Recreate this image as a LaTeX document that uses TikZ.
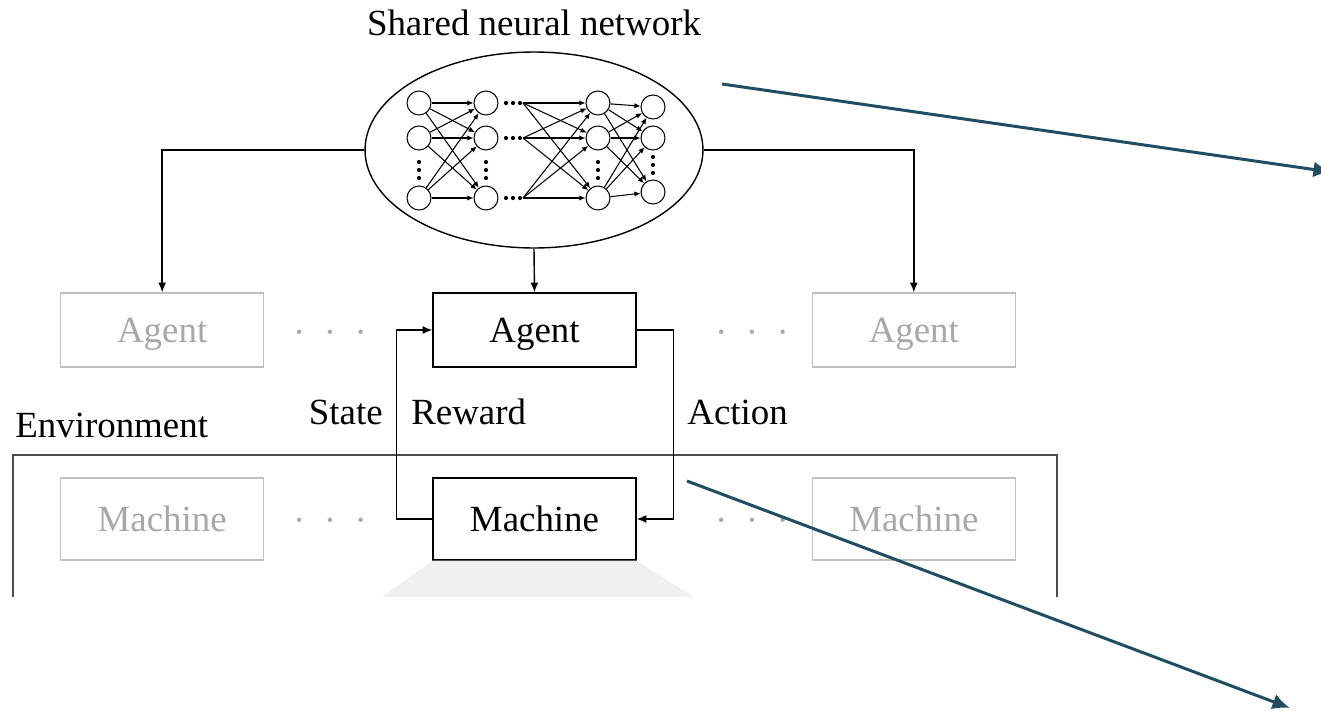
\documentclass[tikz,border=0pt]{standalone}
\usepackage{fontspec}
\setmainfont{Liberation Serif}
\definecolor{paleink}{RGB}{168,168,168}
\definecolor{paleedge}{RGB}{192,192,192}
\definecolor{slateblue}{RGB}{31,78,99}
\usetikzlibrary{shapes,arrows,arrows.meta,positioning}

\begin{document}
\begin{tikzpicture}[x=0.02cm, y=-0.02cm, font=\fontsize{21}{25}\selectfont]
    \tikzstyle{box} = [draw, thick, rectangle, minimum height=1.48cm, minimum width=4.06cm, inner sep=0pt, text depth=0pt]
    \tikzstyle{tallbox} = [box, minimum height=1.64cm]
    \tikzstyle{faded} = [draw=paleedge, text=paleink]
    \tikzstyle{tag} = [inner sep=0pt]
    \tikzstyle{line} = [draw, -{Latex[length=5.5pt,width=4.5pt]}, thick]
    \tikzstyle{neuron} = [draw, circle, minimum size=0.48cm, inner sep=0pt, semithick]
    \tikzstyle{syn} = [draw, -{Latex[length=3.5pt,width=3pt]}, semithick]
    \tikzstyle{pointer} = [draw, -{Latex[length=10pt,width=9pt]}, line width=1.7pt, slateblue]
    \useasboundingbox (0,0) rectangle (1321,710);

    % shared network
    \node [tag, anchor=base] (title) at (534,35) {Shared neural network};
    \node [draw, thick, ellipse, minimum width=6.76cm, minimum height=3.92cm] (net) at (534,150) {};
    \foreach \i/\y in {1/103,2/138,3/198} {
        \node [neuron] (a\i) at (419,\y) {};
        \node [neuron] (b\i) at (486,\y) {};
        \node [neuron] (c\i) at (598,\y) {};
        \coordinate (d\i) at (523,\y);
        \foreach \k in {0,1,2}
            \fill (506+7*\k,\y) circle (1.2pt);
    }
    \foreach \i/\y in {1/107,2/138,3/192}
        \node [neuron] (e\i) at (653,\y) {};
    \foreach \i in {1,2,3}
        \foreach \j in {1,2,3} {
            \path [syn] (a\i) -- (b\j);
            \path [syn] (d\i) -- (c\j);
            \path [syn] (c\i) -- (e\j);
        }
    \foreach \x in {419,486,598}
        \foreach \k in {0,1,2}
            \fill (\x,162+8*\k) circle (1.2pt);
    \foreach \k in {0,1,2}
        \fill (653,157+8*\k) circle (1.2pt);

    % agents and machines
    \node [box] (agent) at (534.5,330) {Agent};
    \node [box, faded, left=3.36cm of agent] (agentL) {Agent};
    \node [box, faded, right=3.5cm of agent] (agentR) {Agent};
    \node [tallbox] (machine) at (534.5,519) {Machine};
    \node [tallbox, faded, left=3.36cm of machine] (machineL) {Machine};
    \node [tallbox, faded, right=3.5cm of machine] (machineR) {Machine};
    \node [tag, anchor=base, text=paleink] (gapAL) at (330,344) {·\hspace{.5em}·\hspace{.5em}·};
    \node [tag, anchor=base, text=paleink] (gapAR) at (752,344) {·\hspace{.5em}·\hspace{.5em}·};
    \node [tag, anchor=base, text=paleink] (gapML) at (330,532) {·\hspace{.5em}·\hspace{.5em}·};
    \node [tag, anchor=base, text=paleink] (gapMR) at (752,532) {·\hspace{.5em}·\hspace{.5em}·};

    % environment
    \fill [gray!12] (machine.south west) -- (382,597) -- (694,597) -- (machine.south east) -- cycle;
    \draw [thick, black!70] (13,597) |- (1057,455) -- (1057,597);
    \node [tag, anchor=base west] (env) at (15,437) {Environment};

    \path [line] (net.west) -| (agentL.north);
    \path [line] (net.east) -| (agentR.north);
    \path [line] (net.south) -- (agent.north);
    \path [line] (machine.west) -| ([xshift=-0.72cm]agent.west) -- (agent.west);
    \path [line] (agent.east) -| ([xshift=0.74cm]machine.east) -- (machine.east);
    \node [tag, anchor=base east] (state) at (383,424) {State};
    \node [tag, anchor=base west] (reward) at (411,424) {Reward};
    \node [tag, anchor=base west] (action) at (687,424) {Action};

    % zoom pointers
    \coordinate (netTail) at (722,84);
    \coordinate (netHead) at (1331,172);
    \coordinate (machTail) at (687,481);
    \coordinate (machHead) at (1290,708);
    \begin{scope}
        \clip (0,0) rectangle (1321,710);
        \path [pointer] (netTail) -- (netHead);
        \path [pointer] (machTail) -- (machHead);
    \end{scope}
\end{tikzpicture}
\end{document}
